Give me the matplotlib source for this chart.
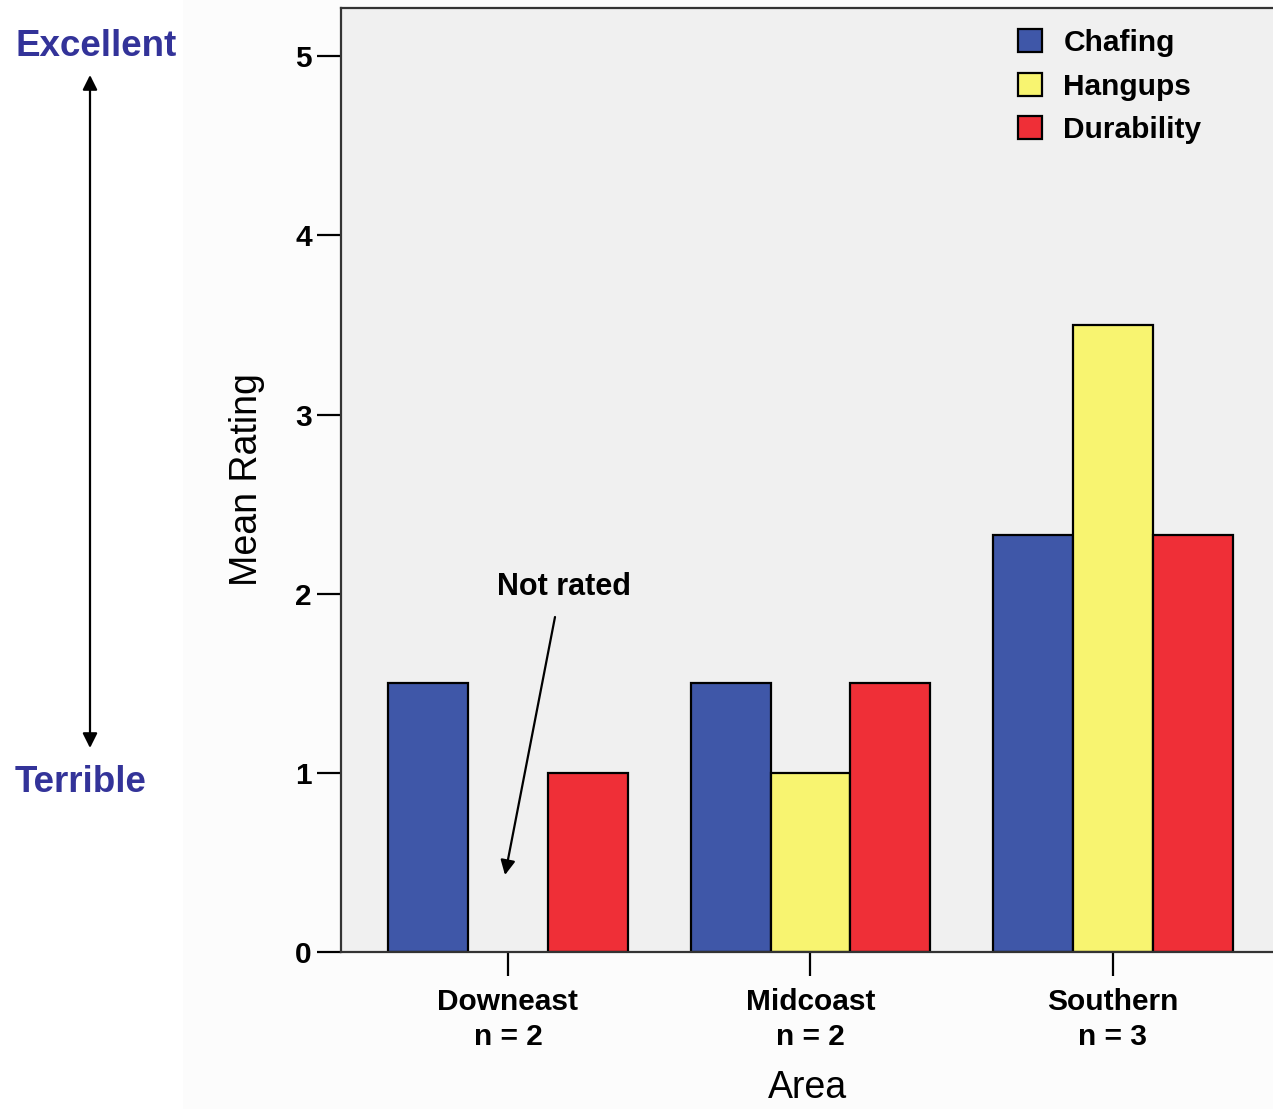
import numpy as np
import matplotlib.pyplot as plt
from matplotlib.patches import Rectangle, FancyArrowPatch

# data
areas = ['Downeast\nn = 2', 'Midcoast\nn = 2', 'Southern\nn = 3']
chafing = [1.5, 1.5, 2.33]
hangups = [0.0, 1.0, 3.5]   # Downeast not rated
durability = [1.0, 1.5, 2.33]
series = ['Chafing', 'Hangups', 'Durability']
colors = ['#3f57a8', '#f8f470', '#ef2f37']

plt.rcParams['font.family'] = ['Liberation Sans', 'DejaVu Sans']

fig = plt.figure(figsize=(12.73, 11.09), dpi=100)
fig.patches.append(Rectangle((183 / 1273, 0), 1 - 183 / 1273, 1, transform=fig.transFigure,
                             facecolor='#fcfcfc', edgecolor='none', zorder=-10))
ax = fig.add_axes([341 / 1273, 157 / 1109, 1 - 341 / 1273, (952 - 8) / 1109])
ax.set_facecolor('#f0f0f0')

x = np.arange(len(areas))
w = 0.264
for i, (name, vals) in enumerate(zip(series, [chafing, hangups, durability])):
    v = np.array(vals)
    mask = v > 0
    ax.bar(x[mask] + (i - 1) * w, v[mask], width=w, color=colors[i], edgecolor='black',
           linewidth=1.6, label=name)

ax.set_ylim(0, 5.27)
ax.set_xlim(-0.552, 2.529)
ax.set_yticks([0, 1, 2, 3, 4, 5])
ax.set_xticks(x)
ax.set_xticklabels(areas, fontsize=21.5, fontweight='bold', linespacing=1.3)
ax.tick_params(axis='y', labelsize=21.5, length=17, width=1.6, pad=4)
ax.tick_params(axis='x', length=17, width=1.6, pad=9)
for lbl in ax.get_yticklabels():
    lbl.set_fontweight('bold')
for s in ['left', 'bottom', 'top']:
    ax.spines[s].set_linewidth(1.6)
    ax.spines[s].set_color('#333333')
ax.spines['right'].set_visible(False)

ax.set_ylabel('Mean Rating', fontsize=27, labelpad=22)
ax.set_xlabel('Area', fontsize=27, labelpad=14)

leg = ax.legend(loc='upper right', bbox_to_anchor=(0.952, 1.006), frameon=False,
                prop={'weight': 'bold', 'size': 21.5}, handlelength=0.8, handleheight=0.8,
                handletextpad=0.7, labelspacing=0.52)

# annotation inside the plot
ax.annotate('', xy=(505, 1109 - 875), xycoords='figure pixels',
            xytext=(555, 1109 - 617), textcoords='figure pixels',
            arrowprops=dict(arrowstyle='-|>', color='black', lw=1.6, mutation_scale=22,
                            shrinkA=0, shrinkB=0))
fig.text(564 / 1273, 1 - 587 / 1109, 'Not rated', fontsize=22, fontweight='bold',
         ha='center', va='center')

# scale arrow on the left
fig.patches.append(FancyArrowPatch(
    (90 / 1273, 1 - 748 / 1109), (90 / 1273, 1 - 75 / 1109), transform=fig.transFigure,
    arrowstyle='<|-|>', mutation_scale=22, color='black', lw=1.6, shrinkA=0, shrinkB=0))
fig.text(15 / 1273, 1 - 47 / 1109, 'Excellent', fontsize=26.5, fontweight='bold',
         color='#333399', ha='left', va='center')
fig.text(15 / 1273, 1 - 782 / 1109, 'Terrible', fontsize=26.5, fontweight='bold',
         color='#333399', ha='left', va='center')

fig.savefig('out.png', dpi=100)
